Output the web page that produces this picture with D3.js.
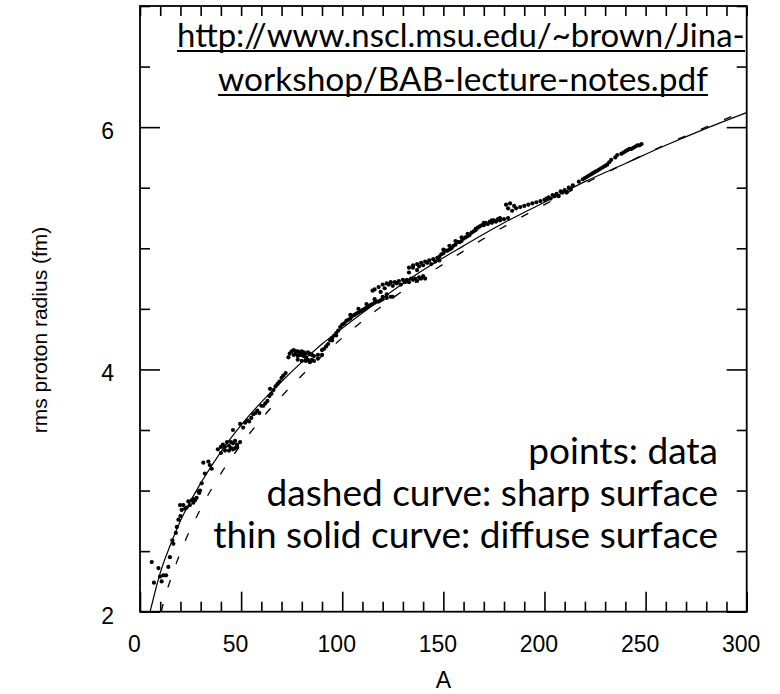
<!DOCTYPE html>
<html>
<head>
<meta charset="utf-8">
<script src="https://cdn.jsdelivr.net/npm/d3@7"></script>
<style>
  body { margin: 0; background: #fff; }
  svg { display: block; }
  .tick text { font-family: "Liberation Sans", Arial, Helvetica, sans-serif; font-size: 23px; fill: #000; }
  .tick line { stroke: #000; stroke-width: 1.6; }
</style>
</head>
<body>
<svg id="chart" width="780" height="694"></svg>
<script>
// thin solid curve (diffuse surface)
const solidA = [5, 8, 10, 15, 20, 30, 40, 50, 60, 70, 80, 90, 100, 120, 140, 160, 180, 200, 220, 240, 260, 280, 300];
const solidR = [2.00, 2.20, 2.32, 2.55, 2.75, 3.06, 3.32, 3.54, 3.73, 3.90, 4.06, 4.21, 4.34, 4.59, 4.82, 5.02, 5.21, 5.38, 5.55, 5.70, 5.85, 5.99, 6.12];

// dashed curve (sharp surface)
const dashA = [10.5, 12, 15, 20, 30, 40, 50, 60, 80, 100, 125, 150, 175, 200, 250, 300];
const dashR = [2.00, 2.10, 2.26, 2.49, 2.85, 3.14, 3.38, 3.59, 3.95, 4.26, 4.59, 4.87, 5.13, 5.36, 5.78, 6.14];

// data points [A, rms radius]
const points = [
  [5.8,2.41],[9.1,2.36],[14.0,2.37],[14.8,2.45],[9.9,2.29],[11.5,2.30],[12.9,2.30],[6.9,2.24],[10.7,2.25],
  [16.5,2.56],[16.0,2.59],[17.7,2.65],[19.0,2.76],[18.2,2.70],[20.0,2.79],
  [19.8,2.88],[20.6,2.84],[21.4,2.88],[22.3,2.85],[23.1,2.86],[23.9,2.91],[24.7,2.88],[25.6,2.92],[26.4,2.90],
  [26.4,2.93],[27.2,2.92],[28.0,2.94],[28.9,2.99],[29.3,2.98],[29.7,3.00],[30.5,3.06],
  [31.3,3.23],[33.8,3.24],[32.1,3.14],[35.5,3.18],[34.5,3.21],
  [38.5,3.34],[40,3.36],[41,3.38],[42,3.36],[43,3.40],[44,3.37],[45,3.35],[46,3.39],[47,3.41],[48,3.38],
  [40,3.31],[44,3.33],[46,3.34],[48,3.36],[49.5,3.40],[46,3.50],[42,3.33],[45,3.40],[47,3.35],
  [49.5,3.55],[51,3.52],[52,3.56],[53,3.58],[54,3.57],[56,3.63],[58,3.66],[59,3.64],[60,3.70],[62,3.72],
  [63,3.74],[64,3.78],[64.3,3.84],[65,3.80],[66,3.83],[67,3.86],[68,3.88],[69,3.90],[70,3.93],[70.9,3.95],[72,3.97],
  [55,3.60],[57,3.64],[61,3.70],
  [73.4,4.10],[74,4.13],[75,4.15],[76,4.16],[77,4.15],[78,4.15],[79,4.14],[80,4.15],[81,4.14],[82,4.13],
  [83,4.14],[84,4.13],[85,4.12],[86,4.11],[76,4.12],[78,4.11],[80,4.12],[82,4.10],[77,4.13],[79,4.12],[81,4.11],
  [78,4.08],[80,4.07],[82,4.07],[84,4.06],[86,4.07],[88,4.09],[90,4.12],[83,4.08],[85,4.08],
  [88,4.12],[90,4.16],[92,4.19],[93,4.21],[94,4.24],[95,4.26],[96,4.28],[97,4.30],[98,4.32],[99,4.35],
  [91,4.17],[95,4.24],[97,4.28],
  [100,4.37],[102,4.40],[104,4.42],[106,4.45],[108,4.47],[110,4.49],[112,4.51],[114,4.53],[116,4.55],
  [118,4.56],[120,4.58],[122,4.59],[124,4.60],[125,4.60],
  [101,4.38],[103,4.41],[105,4.44],[107,4.46],[109,4.48],[111,4.50],[113,4.52],[115,4.54],[117,4.56],[119,4.57],
  [104,4.45],[108,4.50],[112,4.54],[116,4.58],[120,4.60],[122,4.62],
  [115,4.65],[116,4.66],[118,4.68],[119,4.64],[120,4.70],[121,4.67],[122,4.71],[124,4.72],[125,4.69],[126,4.72],
  [128,4.73],[129,4.70],[130,4.74],[132,4.74],[133,4.72],[134,4.75],[136,4.75],[137,4.73],[138,4.76],[140,4.77],[141,4.75],
  [123,4.70],[127,4.71],[131,4.72],[135,4.74],[139,4.75],
  [133,4.80],[135,4.84],[137,4.82],
  [133,4.84],[135,4.86],[137,4.87],[139,4.88],[140,4.86],[141,4.89],[143,4.90],[144,4.87],[145,4.91],[146,4.89],[147,4.92],[148,4.90],
  [138,4.85],[142,4.88],
  [148,4.93],[150,4.96],[150,4.99],[152,4.98],[153,5.02],[154,5.00],[156,5.03],[156,5.06],[158,5.05],[159,5.09],
  [160,5.08],[162,5.10],[162,5.12],[164,5.13],[166,5.15],
  [149,4.95],[151,4.98],[153,4.99],[155,5.02],[157,5.05],[159,5.06],[161,5.09],[163,5.11],[165,5.14],
  [166,5.16],[168,5.18],[170,5.19],[170,5.21],[172,5.20],[174,5.21],[174,5.23],[176,5.22],[178,5.23],[178,5.25],
  [180,5.24],[182,5.25],[167,5.17],[169,5.19],[171,5.21],[173,5.22],[175,5.23],[177,5.24],
  [181,5.36],[182,5.33],[183,5.37],[184,5.31],[185,5.35],[186,5.33],[188,5.34],[190,5.35],[192,5.36],[194,5.37],
  [196,5.38],[198,5.39],[200,5.40],[202,5.42],[203,5.41],[204,5.44],[206,5.45],[207,5.43],[208,5.47],[210,5.48],
  [211,5.46],[212,5.50],[214,5.52],[201,5.41],[205,5.43],[209,5.46],[213,5.49],
  [217,5.55],[219,5.57],[220,5.58],[221,5.59],[223,5.61],[225,5.63],[226,5.64],[227,5.65],[229,5.67],[230,5.68],
  [231,5.69],[232,5.71],[233,5.73],[235,5.75],[236,5.77],[238,5.78],[239,5.79],[240,5.80],[242,5.82],[243,5.82],
  [244,5.83],[246,5.85],[248,5.86],[222,5.60],[224,5.62],[228,5.66],[241,5.81],[245,5.84],[247,5.85]
];

const xMajor = [0, 50, 100, 150, 200, 250, 300];
const yMajor = [2, 4, 6];
const legendLines = ["points: data", "dashed curve: sharp surface", "thin solid curve: diffuse surface"];
const urlLines = ["http://www.nscl.msu.edu/~brown/Jina-", "workshop/BAB-lecture-notes.pdf"];

const svg = d3.select("#chart");
const m = { left: 140, right: 746.7, top: 6, bottom: 611.7 };

const x = d3.scaleLinear().domain([0, 300]).range([m.left, m.right]);
const y = d3.scaleLinear().domain([2, 7]).range([m.bottom, m.top]);

const xMinor = d3.range(0, 301, 10).filter(d => d % 50 !== 0);
const yMinor = d3.range(2, 7.01, 0.5).filter(d => yMajor.indexOf(d) < 0);

// clip so the curves stop at the frame
svg.append("clipPath").attr("id", "plot-clip")
  .append("rect").attr("x", m.left).attr("y", m.top).attr("width", m.right - m.left).attr("height", m.bottom - m.top);

// ticks: all pointing inward
function ticks(axis, tr) {
  const g = svg.append("g").attr("transform", tr).call(axis);
  g.select(".domain").remove();
  return g;
}
ticks(d3.axisBottom(x).tickValues(xMinor).tickSize(-10).tickFormat(""), `translate(0,${m.bottom})`);
const xg = ticks(d3.axisBottom(x).tickValues(xMajor).tickSize(-20), `translate(0,${m.bottom})`);
xg.selectAll("text").attr("y", 40).attr("dy", 0).attr("dx", -6);
ticks(d3.axisTop(x).tickValues(d3.range(0, 301, 10)).tickSize(-10).tickFormat(""), `translate(0,${m.top})`);

ticks(d3.axisLeft(y).tickValues(yMinor).tickSize(-10).tickFormat(""), `translate(${m.left},0)`);
const yg = ticks(d3.axisLeft(y).tickValues(yMajor).tickSize(-20).tickFormat(d3.format("d")), `translate(${m.left},0)`);
yg.selectAll("text").attr("x", -26).attr("dy", "0.5em");
ticks(d3.axisRight(y).tickValues(yMinor).tickSize(-10).tickFormat(""), `translate(${m.right},0)`);
ticks(d3.axisRight(y).tickValues(yMajor).tickSize(-20).tickFormat(""), `translate(${m.right},0)`);

// frame
svg.append("rect")
  .attr("x", m.left).attr("y", m.top).attr("width", m.right - m.left).attr("height", m.bottom - m.top)
  .attr("fill", "none").attr("stroke", "#000").attr("stroke-width", 1.8);

const plot = svg.append("g").attr("clip-path", "url(#plot-clip)");

const line = d3.line().x(d => x(d[0])).y(d => y(d[1])).curve(d3.curveMonotoneX);

plot.append("path")
  .datum(solidA.map((a, i) => [a, solidR[i]]))
  .attr("d", line)
  .attr("fill", "none").attr("stroke", "#000").attr("stroke-width", 1.2);

plot.append("path")
  .datum(dashA.map((a, i) => [a, dashR[i]]))
  .attr("d", line)
  .attr("fill", "none").attr("stroke", "#000").attr("stroke-width", 1.3)
  .attr("stroke-dasharray", "8,17");

plot.selectAll("circle.pt")
  .data(points)
  .enter().append("circle")
  .attr("class", "pt")
  .attr("cx", d => x(d[0]))
  .attr("cy", d => y(d[1]))
  .attr("r", 2.1)
  .attr("fill", "#000");

// axis titles
svg.append("text")
  .attr("x", (m.left + m.right) / 2).attr("y", 688)
  .attr("text-anchor", "middle")
  .style("font-family", "'Liberation Sans', Arial, sans-serif").style("font-size", "23px")
  .text("A");

svg.append("text")
  .attr("transform", "translate(47,330) rotate(-90)")
  .attr("text-anchor", "middle")
  .style("font-family", "'Liberation Sans', Arial, sans-serif").style("font-size", "21px")
  .text("rms proton radius (fm)");

// font-size that makes a text fill a given width
function fitSize(t, w) {
  const len = t.node().getComputedTextLength();
  const fs = parseFloat(t.style("font-size"));
  return fs * w / len;
}

const humanist = "Lato, 'Open Sans', sans-serif";

// legend notes, right aligned, one common size set by the longest line
const legendBase = [464, 506, 548];
const legend = svg.selectAll("text.note")
  .data(legendLines)
  .enter().append("text")
  .attr("class", "note")
  .attr("x", 718).attr("y", (d, i) => legendBase[i])
  .attr("text-anchor", "end")
  .style("font-family", humanist).style("font-size", "30px")
  .text(d => d);
const legendSize = fitSize(legend.filter((d, i) => i === 2), 505);
legend.style("font-size", legendSize + "px");

// source url, underlined
const urlX = [177, 218], urlBase = [47, 91], urlWidth = [568, 490];
urlLines.forEach((s, i) => {
  const t = svg.append("text")
    .attr("x", urlX[i]).attr("y", urlBase[i])
    .style("font-family", humanist).style("font-size", "30px")
    .text(s);
  t.style("font-size", fitSize(t, urlWidth[i]) + "px");
  svg.append("line")
    .attr("x1", urlX[i]).attr("x2", urlX[i] + urlWidth[i])
    .attr("y1", urlBase[i] + 4).attr("y2", urlBase[i] + 4)
    .attr("stroke", "#000").attr("stroke-width", 1.8);
});
</script>
</body>
</html>
